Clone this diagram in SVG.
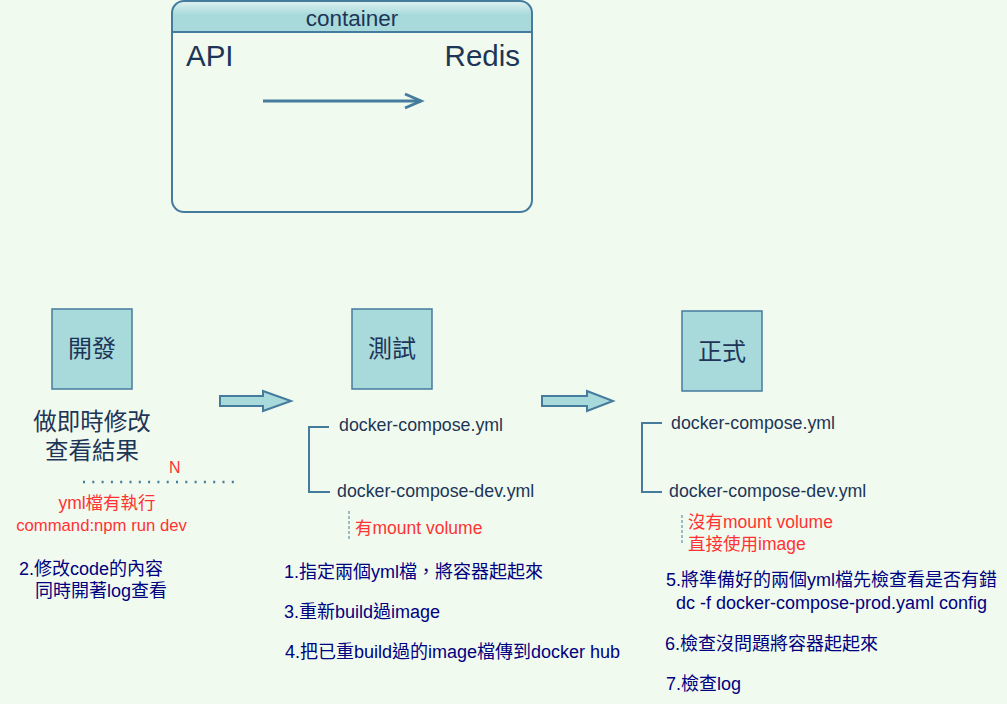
<svg xmlns="http://www.w3.org/2000/svg" width="1007" height="704" viewBox="0 0 1007 704">
<defs>
<style>
text{font-family:"Liberation Sans","Noto Sans CJK TC",Arial,sans-serif;}
.box{fill:#a8dadc;stroke:#457b9d;stroke-width:1.5;}
.lbl{fill:#1d3557;font-size:24px;text-anchor:middle;}
.file{fill:#1d3557;font-size:17.8px;}
.red{fill:#ff3333;font-size:17.5px;}
.step{fill:#000080;font-size:18px;}
.brk{fill:none;stroke:#457b9d;stroke-width:2;}
.dash{fill:none;stroke:#457b9d;stroke-width:1;stroke-dasharray:3 2;}
.blk{fill:#a8dadc;stroke:#457b9d;stroke-width:2;}
</style>
<linearGradient id="hdr" x1="0" y1="0" x2="0" y2="1">
<stop offset="0" stop-color="#dff1f1"/>
<stop offset="0.45" stop-color="#a8dadc"/>
<stop offset="1" stop-color="#a8dadc"/>
</linearGradient>
<clipPath id="cclip"><rect x="172" y="1" width="360" height="211" rx="12"/></clipPath>
</defs>
<rect width="1007" height="704" fill="#f1faee"/>

<g id="container">
<rect x="172" y="1" width="360" height="211" rx="12" fill="#f1faee"/>
<rect x="172" y="1" width="360" height="31" fill="url(#hdr)" clip-path="url(#cclip)"/>
<line x1="172" y1="32" x2="532" y2="32" stroke="#457b9d" stroke-width="2"/>
<rect x="172" y="1" width="360" height="211" rx="12" fill="none" stroke="#457b9d" stroke-width="2"/>
<text x="352" y="26" fill="#1d3557" font-size="22.5" text-anchor="middle">container</text>
<text x="186" y="66" fill="#1d3557" font-size="29.5">API</text>
<text x="520" y="66" fill="#1d3557" font-size="29.5" text-anchor="end">Redis</text>
</g>

<g id="node-dev">
<rect class="box" x="52" y="309" width="80" height="80"/>
<text class="lbl" x="92" y="357">開發</text>
</g>
<g id="node-test">
<rect class="box" x="352" y="309" width="80" height="80"/>
<text class="lbl" x="392" y="357">測試</text>
</g>
<g id="node-prod">
<rect class="box" x="682" y="311" width="80" height="80"/>
<text class="lbl" x="722" y="360">正式</text>
</g>

<g id="connectors">
<line x1="263" y1="101" x2="421" y2="101" stroke="#457b9d" stroke-width="3"/>
<polyline points="405,94 421,101 405,108" fill="none" stroke="#457b9d" stroke-width="3"/>
<polygon class="blk" points="220,396 263,396 263,391 291,401 263,411 263,406 220,406"/>
<polygon class="blk" points="542,396 587,396 587,391 613,401 587,411 587,406 542,406"/>
</g>

<g id="dev-notes">
<text x="92" y="430" fill="#1d3557" font-size="23.5" text-anchor="middle">做即時修改</text>
<text x="92" y="459" fill="#1d3557" font-size="23.5" text-anchor="middle">查看結果</text>
<text x="169" y="473" fill="#ff3333" font-size="16">N</text>
<line x1="83" y1="482" x2="240" y2="482" stroke="#457b9d" stroke-width="2.5" stroke-dasharray="2 7.3"/>
<text class="red" x="107" y="509" text-anchor="middle">yml檔有執行</text>
<text class="red" x="101.5" y="531" text-anchor="middle" style="font-size:16.7px">command:npm run dev</text>
<text class="step" x="19" y="575">2.修改code的內容</text>
<text class="step" x="35" y="597">同時開著log查看</text>
</g>

<g id="test-notes">
<polyline class="brk" points="329,427 309,427 309,492 330,492"/>
<text class="file" x="339" y="431">docker-compose.yml</text>
<text class="file" x="337" y="497">docker-compose-dev.yml</text>
<line class="dash" x1="349" y1="511" x2="349" y2="539"/>
<text class="red" x="355" y="534">有mount volume</text>
<text class="step" x="284" y="578">1.指定兩個yml檔，將容器起起來</text>
<text class="step" x="284" y="618">3.重新build過image</text>
<text class="step" x="285" y="658">4.把已重build過的image檔傳到docker hub</text>
</g>

<g id="prod-notes">
<polyline class="brk" points="662,423 642,423 642,492 662,492"/>
<text class="file" x="671" y="429">docker-compose.yml</text>
<text class="file" x="669" y="497">docker-compose-dev.yml</text>
<line class="dash" x1="682" y1="515" x2="682" y2="545"/>
<text class="red" x="688" y="528">沒有mount volume</text>
<text class="red" x="688" y="550">直接使用image</text>
<text class="step" x="666" y="586">5.將準備好的兩個yml檔先檢查看是否有錯</text>
<text class="step" x="676" y="609">dc -f docker-compose-prod.yaml config</text>
<text class="step" x="665" y="650">6.檢查沒問題將容器起起來</text>
<text class="step" x="666" y="690">7.檢查log</text>
</g>
</svg>
